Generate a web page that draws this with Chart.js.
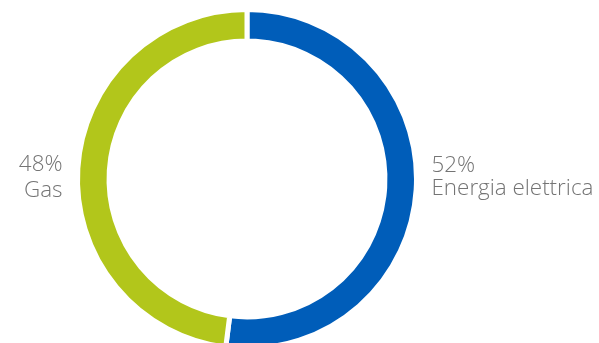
<!DOCTYPE html>
<html>
<head>
<meta charset="utf-8">
<script src="https://cdn.jsdelivr.net/npm/chart.js@4/dist/chart.umd.min.js"></script>
<style>
  html, body { margin: 0; padding: 0; background: #fff; overflow: hidden; }
  #wrap { position: absolute; left: 0; top: 0; width: 599px; height: 360px; }
</style>
</head>
<body>
<div id="wrap"><canvas id="myChart"></canvas></div>
<script>
const categories = ['Energia elettrica', 'Gas'];
const shares = [52, 48];
const colors = ['#005db9', '#b2c61b'];

// etichette ai lati dell'anello
const sideLabels = {
    id: 'sideLabels',
    afterDraw(chart) {
        const ctx = chart.ctx;
        const arc = chart.getDatasetMeta(0).data[0];
        const cx = arc.x, cy = arc.y, r = arc.outerRadius;
        ctx.save();
        ctx.fillStyle = '#747474';
        ctx.font = '300 22.4px "Open Sans"';
        ctx.textBaseline = 'alphabetic';
        // destra: primo valore
        ctx.textAlign = 'left';
        ctx.fillText(shares[0] + '%', cx + r + 15, cy - 7);
        ctx.fillText(categories[0], cx + r + 15, cy + 16);
        // sinistra: secondo valore
        ctx.textAlign = 'right';
        ctx.fillText(shares[1] + '%', cx - r - 15, cy - 8);
        ctx.fillText(categories[1], cx - r - 15, cy + 18);
        ctx.restore();
    }
};

const ctx = document.getElementById('myChart').getContext('2d');
new Chart(ctx, {
    type: 'doughnut',
    data: {
        labels: categories,
        datasets: [{
            data: shares,
            backgroundColor: colors,
            borderColor: '#ffffff',
            borderWidth: 5,
            hoverOffset: 0
        }]
    },
    options: {
        responsive: true,
        maintainAspectRatio: false,
        animation: false,
        cutout: '81.4%',
        layout: { padding: { left: 75, right: 180, top: 7, bottom: 9 } },
        plugins: {
            legend: { display: false },
            tooltip: { enabled: false }
        }
    },
    plugins: [sideLabels]
});
</script>
</body>
</html>
